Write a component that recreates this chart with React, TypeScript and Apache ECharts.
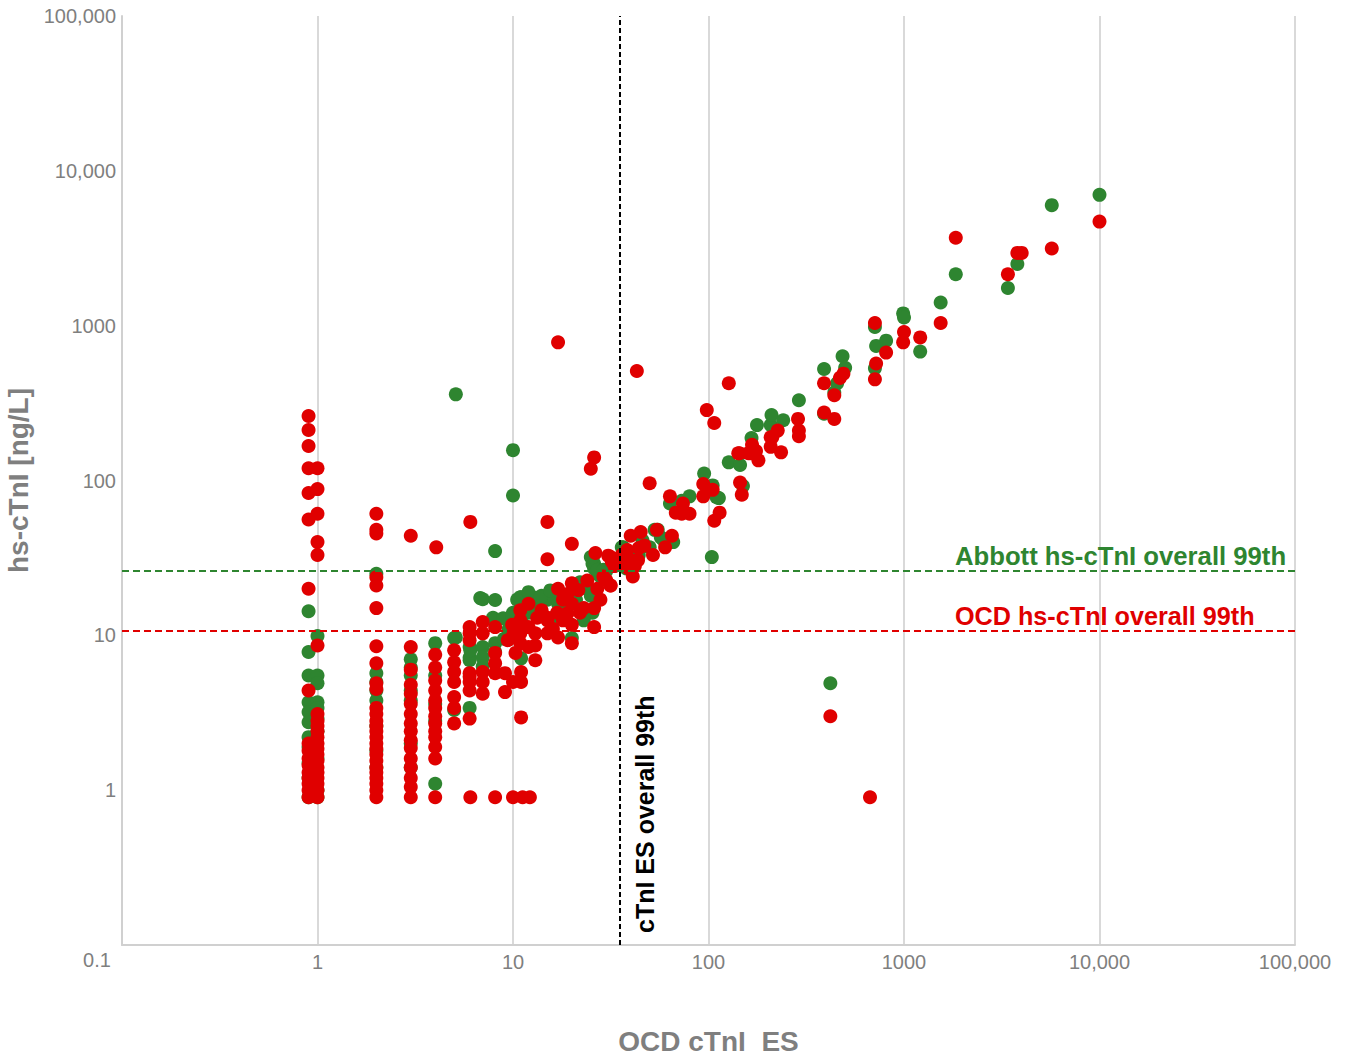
import React, { useEffect, useRef } from 'react';
import * as echarts from 'echarts';

// Reference lines (99th percentiles)
const abbott99th = 26;
const ocd99th = 10.7;
const es99th = 35;

const axisMin = 0.1;
const axisMax = 100000;

// Abbott hs-cTnI vs OCD cTnI ES  [x, y]
const abbottPoints: [number, number][] = [
  [1, 9.9], [0.9, 14.3], [0.9, 7.8], [0.9, 5.5], [1, 5.5], [1, 4.9], [0.9, 3.7], [1, 3.7], [0.9, 3.2], [1, 3.4],
  [0.9, 2.75], [1, 2.9], [0.9, 2.2], [1, 2.4], [0.9, 1.9], [0.9, 1.5], [1, 1.6], [0.9, 1.2], [1, 1.0], [0.9, 0.9], [1, 0.9],
  [2, 25], [2, 5.7], [2, 5.0], [2, 4.4], [2, 3.8], [2, 2.6], [2, 1.8], [2, 1.4],
  [3, 7.0], [3, 6.2], [3, 5.5], [3, 4.4], [3, 3.8], [3, 2.0], [3, 1.4],
  [4, 8.9], [4, 2.8], [4, 1.1], [4, 5.5], [4, 3.6],
  [5, 9.6], [5.1, 9.7], [5, 3.3], [5.1, 360],
  [6, 8.4], [6, 6.9], [6, 3.4], [6, 7.2], [6.05, 8.0],
  [7, 8.4], [7, 7.2], [6.8, 17.4], [7, 17.1], [7, 6.3],
  [8.1, 16.9], [8.1, 8.9], [8.1, 35], [8.1, 7.8],
  [9, 9.5], [9.5, 11], [10, 157], [10, 80], [10, 12], [10, 14], [10.5, 17], [11, 7.1], [11, 12.5], [11, 17.6],
  [12, 18], [12, 14], [13, 17.5], [13, 15], [14, 18], [15, 17], [16, 18], [16, 13], [17, 19], [18, 16], [19, 18],
  [20, 9.6], [20, 19], [21, 17], [22, 22], [23, 13], [24, 20], [25, 32], [25, 18], [26, 29], [26, 27], [27, 25],
  [28, 24], [30, 26], [32, 28], [34, 30], [36, 37], [37, 32], [38, 27], [40, 30], [44, 33],
  [10.9, 17.6], [12, 19], [13.8, 17.6], [15.5, 19.5], [7.9, 13], [8.9, 12.9], [9.9, 13.5], [25.5, 29], [27, 26.5],
  [29, 26.5], [25.5, 14], [23, 12.5], [18, 18], [22, 20], [17, 16],
  [25.6, 32], [36.6, 37], [36.6, 32], [46, 41], [50, 37], [57, 43],
  [53, 48], [55, 48], [58, 42], [62, 40], [66, 40], [63.5, 71], [73, 74], [80, 79], [95, 111], [104, 32], [105, 93],
  [110, 78], [113, 77], [127, 131], [145, 126], [150, 92], [166, 188], [177, 228], [208, 228], [210, 265], [241, 245],
  [290, 330], [390, 525], [390, 270], [440, 370], [455, 425], [485, 635], [500, 535], [420, 4.9], [710, 530], [710, 980],
  [720, 740], [810, 800], [990, 1200], [1000, 1130], [1210, 680], [1540, 1410], [1840, 2150], [3400, 1750], [3800, 2500],
  [5700, 6000], [10000, 7000],
];

// OCD hs-cTnI vs OCD cTnI ES  [x, y]
const ocdPoints: [number, number][] = [
  [0.9, 261], [0.9, 212], [0.9, 167], [0.9, 120], [1, 120], [0.9, 83], [1, 88], [0.9, 56], [1, 61], [1, 40], [1, 33],
  [0.9, 20], [1, 8.6], [0.9, 4.4],
  [1, 3.1], [1, 2.8], [1, 2.6], [1, 2.4], [1, 2.2], [1, 2.0], [1, 1.85], [1, 1.7], [1, 1.55], [1, 1.4], [1, 1.3],
  [1, 1.2], [1, 1.1], [1, 1.0], [1, 0.9],
  [0.9, 2.0], [0.9, 1.8], [0.9, 1.6], [0.9, 1.45], [0.9, 1.3], [0.9, 1.2], [0.9, 1.1], [0.9, 1.0], [0.9, 0.9],
  [2, 61], [2, 48], [2, 45.5], [2, 23.7], [2, 21], [2, 15], [2, 8.5], [2, 6.6], [2, 4.9], [2, 4.5], [2, 3.4], [2, 3.1],
  [2, 2.8], [2, 2.6], [2, 2.4], [2, 2.2], [2, 2.0], [2, 1.85], [2, 1.7], [2, 1.55], [2, 1.4], [2, 1.3], [2, 1.2],
  [2, 1.1], [2, 1.0], [2, 0.9],
  [3, 44], [3, 8.4], [3, 6.0], [3, 4.8], [3, 4.2], [3, 3.6], [3, 3.1], [3, 2.7], [3, 2.4], [3, 2.1], [3, 1.87],
  [3, 1.6], [3, 1.4], [3, 1.2], [3, 1.05], [3, 0.9],
  [4.05, 37], [4, 7.5], [4, 6.2], [4, 5.1], [4, 4.4], [4, 3.8], [4, 3.4], [4, 3.0], [4, 2.7], [4, 2.4], [4, 2.2],
  [4, 1.9], [4, 1.6], [4, 0.9],
  [5, 8.0], [5, 6.7], [5, 5.8], [5, 5.0], [5, 4.0], [5, 3.4], [5, 2.7],
  [6.05, 54], [6, 11.3], [6, 10.3], [6, 9.3], [6, 5.7], [6, 5.0], [6, 4.4], [6, 2.9], [6.05, 0.9], [6, 5.4],
  [7, 12.2], [7, 10.3], [7, 5.8], [7, 5.0], [7, 4.2],
  [8.1, 11.3], [8.1, 7.7], [8.1, 6.6], [8.1, 5.7], [8.1, 0.9],
  [9.1, 5.7], [9.1, 4.3], [10, 5.0], [10, 0.9],
  [11, 5.8], [11, 5.0], [11, 2.95], [11.2, 0.9], [12.2, 0.9],
  [10.9, 14.5], [12, 16], [14, 14.5], [16.8, 14], [17, 20], [20, 21.7], [24, 22.6], [27, 20], [31.5, 21], [20, 16],
  [23, 15], [26, 15], [19, 13.9], [20, 11.7], [26, 11.3], [20, 8.9], [13.3, 13], [15, 13], [10.9, 12.5], [12, 11.3],
  [13, 10.3], [15, 10.3], [17, 9.7], [9.4, 9.3], [13, 8.6], [28, 17], [30, 22.7], [21.6, 19.6], [9.9, 11.7], [9.9, 9.7],
  [10.9, 10.3], [10.9, 8.9], [12, 8.4], [13, 6.9], [10.3, 7.7], [15, 12.5], [16, 11], [18, 12.5], [18, 17], [22, 14],
  [19, 18.5],
  [15, 54], [15, 31], [17, 780], [20, 39], [25, 119], [26, 141], [29, 24], [30.7, 32.7], [32, 30], [33, 28],
  [26.4, 34], [31.6, 32], [31.6, 21],
  [38.4, 35.6], [40, 30.6], [40, 44], [41, 24], [43, 510], [44, 36.6], [43.6, 30.6], [45, 46.5], [50, 96], [52, 33],
  [54.5, 48], [60, 37], [65, 44], [36, 33], [42, 28], [47, 38], [39, 27], [35, 29],
  [63.5, 79], [68, 62], [73, 61], [74, 71], [80, 61], [94, 95], [94, 79], [98, 285], [105, 87], [107, 235], [107, 55],
  [114, 62], [127, 425], [142, 150], [144, 150], [145, 97], [148, 81], [160, 150], [164, 150], [167, 170], [175, 155],
  [180, 135], [208, 165], [208, 190], [212, 190], [226, 210], [235, 152], [287, 250], [290, 210], [290, 193],
  [390, 425], [390, 275], [420, 3.0], [440, 355], [440, 250], [470, 460], [490, 490], [670, 0.9], [710, 1040],
  [710, 450], [720, 570], [810, 670], [990, 780], [1000, 910], [1210, 840], [1540, 1040], [1840, 3700], [3400, 2150],
  [3800, 2950], [4000, 2950], [5700, 3150], [10000, 4700],
];

const GREEN = '#2e8530';
const RED = '#e00000';
const GRAY = '#7f7f7f';
const FONT = '"Liberation Sans", Arial, sans-serif';

function fmtTick(v: number): string {
  if (v < 0.5) return '0.1';
  const r = Math.round(v);
  return String(r).length > 4 ? String(r).replace(/\B(?=(\d{3})+(?!\d))/g, ',') : String(r);
}

export default function App() {
  const ref = useRef<HTMLDivElement>(null);

  useEffect(() => {
    if (!ref.current) return;
    const chart = echarts.init(ref.current, undefined, { renderer: 'svg' });
    const axisCommon = {
      type: 'log' as const,
      logBase: 10,
      min: axisMin,
      max: axisMax,
      axisTick: { show: false },
      axisLine: { show: true, onZero: false, lineStyle: { color: '#d0d0d0', width: 2 } },
      axisLabel: {
        formatter: fmtTick,
        color: GRAY,
        fontSize: 20,
        fontFamily: FONT,
        showMinLabel: false,
      },
      nameLocation: 'middle' as const,
      nameTextStyle: { color: GRAY, fontSize: 28, fontWeight: 'bold' as const, fontFamily: FONT },
    };
    chart.setOption({
      animation: false,
      backgroundColor: '#ffffff',
      grid: { left: 122, right: 54, top: 16, bottom: 113, containLabel: false, outerBoundsMode: 'none' },
      xAxis: {
        ...axisCommon,
        name: 'OCD cTnI  ES',
        nameGap: 82,
        axisLabel: { ...axisCommon.axisLabel, margin: 7 },
        splitLine: { show: true, lineStyle: { color: '#d9d9d9', width: 2 } },
      },
      yAxis: {
        ...axisCommon,
        name: 'hs-cTnI [ng/L]',
        nameGap: 76,
        axisLabel: { ...axisCommon.axisLabel, margin: 6 },
        splitLine: { show: false },
      },
      series: [
        {
          name: 'Abbott hs-cTnI',
          type: 'scatter',
          data: abbottPoints,
          symbolSize: 14,
          itemStyle: { color: GREEN, opacity: 1 },
          z: 2,
        },
        {
          name: 'OCD hs-cTnI',
          type: 'scatter',
          data: ocdPoints,
          symbolSize: 14,
          itemStyle: { color: RED, opacity: 1 },
          z: 3,
          markLine: {
            silent: true,
            symbol: 'none',
            animation: false,
            z: 10,
            label: { show: false },
            data: [
              { yAxis: abbott99th, lineStyle: { color: GREEN, type: [7, 4], width: 2 } },
              { yAxis: ocd99th, lineStyle: { color: RED, type: [7, 4], width: 2 } },
              { xAxis: es99th, lineStyle: { color: '#000000', type: [5, 3], width: 2 } },
            ],
          },
        },
      ],
      graphic: [
        {
          type: 'text',
          x: 97,
          y: 960,
          style: { text: '0.1', fill: GRAY, fontSize: 20, fontFamily: FONT, align: 'center', verticalAlign: 'middle' },
        },
        {
          type: 'text',
          x: 955,
          y: 556,
          z: 20,
          style: {
            text: 'Abbott hs-cTnI overall 99th',
            fill: GREEN,
            fontSize: 25.7,
            fontWeight: 'bold',
            fontFamily: FONT,
            align: 'left',
            verticalAlign: 'middle',
          },
        },
        {
          type: 'text',
          x: 955,
          y: 616,
          z: 20,
          style: {
            text: 'OCD hs-cTnI overall 99th',
            fill: RED,
            fontSize: 25.2,
            fontWeight: 'bold',
            fontFamily: FONT,
            align: 'left',
            verticalAlign: 'middle',
          },
        },
        {
          type: 'text',
          x: 645,
          y: 933,
          rotation: Math.PI / 2,
          z: 20,
          style: {
            text: 'cTnI ES overall 99th',
            fill: '#000000',
            fontSize: 25,
            fontWeight: 'bold',
            fontFamily: FONT,
            align: 'left',
            verticalAlign: 'middle',
          },
        },
      ],
    });
    return () => chart.dispose();
  }, []);

  return (
    <div
      ref={ref}
      style={{ position: 'absolute', left: 0, top: 0, width: 1349, height: 1058, background: '#fff' }}
    />
  );
}
